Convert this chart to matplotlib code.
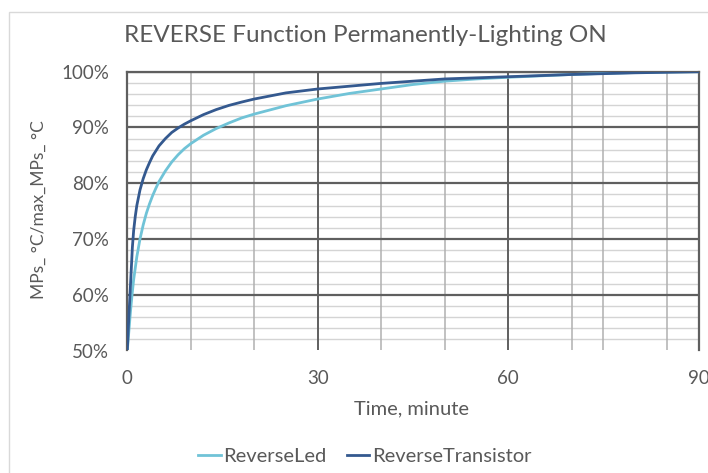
import matplotlib
matplotlib.use("Agg")
import matplotlib.pyplot as plt
from matplotlib.patches import Rectangle
from matplotlib.ticker import FuncFormatter

plt.rcParams['font.family'] = ['Lato', 'DejaVu Sans']

# Normalised temperature rise (% of max) versus time in minutes
led_time = [0, 0.25, 0.5, 0.75, 1.0, 1.5, 2.0, 2.5, 3.0, 3.5, 4.0, 4.5, 5.0,
            6, 7, 8, 9, 10, 12, 14, 16, 18, 20, 25, 30, 35, 40, 45, 50, 55,
            60, 65, 70, 75, 80, 85, 90]
reverse_led = [50, 53.5, 57, 60, 62.7, 66.8, 70, 72.5, 74.6, 76.3, 77.8, 79.1,
               80.3, 82.2, 83.8, 85.1, 86.2, 87.1, 88.6, 89.8, 90.8, 91.7,
               92.4, 93.9, 95.1, 96.1, 96.9, 97.7, 98.3, 98.7, 99.0, 99.25,
               99.5, 99.7, 99.85, 99.95, 100]

transistor_time = [0, 0.2, 0.4, 0.6, 0.8, 1.0, 1.25, 1.5, 2.0, 2.5, 3.0, 3.5,
                   4.0, 5, 6, 7, 8, 9, 10, 12, 14, 16, 18, 20, 25, 30, 35, 40,
                   45, 50, 55, 60, 65, 70, 75, 80, 85, 90]
reverse_transistor = [50, 55, 59.5, 64, 68.5, 71.5, 74, 76, 78.8, 80.8, 82.4,
                      83.7, 84.9, 86.7, 88.0, 89.1, 89.9, 90.6, 91.2, 92.3,
                      93.2, 93.95, 94.55, 95.1, 96.2, 96.9, 97.4, 97.9, 98.3,
                      98.7, 98.9, 99.1, 99.3, 99.5, 99.65, 99.8, 99.9, 100]

x_major = [0, 30, 60, 90]
x_minor = [10, 20, 40, 50, 70, 75, 85]
y_major = [50, 60, 70, 80, 90, 100]
y_minor = [v for v in range(52, 100, 2) if v % 10]

TEXT = '#595959'
W, H = 708, 473
fig = plt.figure(figsize=(W / 100, H / 100), dpi=100)
fig.patch.set_facecolor('white')

# light outline of the chart area
fig.patches.append(Rectangle((9 / W, -0.05), 1.2, 1 - 12 / H + 0.05,
                             transform=fig.transFigure, fill=False,
                             edgecolor='#d9d9d9', linewidth=1.0))

left, right = 127.3 / W, 698.5 / W
bottom, top = 1 - 350.5 / H, 1 - 71.7 / H
ax = fig.add_axes([left, bottom, right - left, top - bottom])

ax.set_xlim(0, 90)
ax.set_ylim(50, 100)

# gridlines
for v in y_minor:
    ax.axhline(v, color='#d4d4d4', linewidth=1.0, zorder=1)
for v in y_major[1:]:
    ax.axhline(v, color='#5f5f5f', linewidth=1.6, zorder=1.5)
for v in x_minor:
    ax.axvline(v, color='#b0b0b0', linewidth=1.1, zorder=1.2)
for v in x_major[1:3]:
    ax.axvline(v, color='#5f5f5f', linewidth=1.4, zorder=1.5)

ax.plot(led_time, reverse_led, color='#70c3d7', linewidth=2.0,
        label='ReverseLed', zorder=3)
ax.plot(transistor_time, reverse_transistor, color='#34598f', linewidth=2.0,
        label='ReverseTransistor', zorder=3)

for side in ('top', 'right', 'left'):
    ax.spines[side].set_color('#5f5f5f')
    ax.spines[side].set_linewidth(1.6)
ax.spines['bottom'].set_visible(False)

ax.set_xticks(x_major)
ax.set_yticks(y_major)
ax.yaxis.set_major_formatter(FuncFormatter(lambda v, p: f'{v:.0f}%'))
ax.tick_params(length=0, colors=TEXT, labelsize=13.5)
ax.tick_params(axis='x', pad=14)
ax.tick_params(axis='y', pad=13)

fig.text(412 / W, 1 - 409 / H, 'Time, minute', ha='center', va='center',
         color=TEXT, fontsize=14.5)
fig.text(39 / W, 1 - 210 / H, 'MPs_ °C/max_MPs_ °C', ha='center',
         va='center', rotation=90, color=TEXT, fontsize=12.5)

fig.text(365 / W, 1 - 36 / H, 'REVERSE Function Permanently-Lighting ON',
         ha='center', va='center', color=TEXT, fontsize=17.5)

leg = fig.legend(loc='center', bbox_to_anchor=(365 / W, 1 - 456 / H),
                 ncol=2, frameon=False, fontsize=14.5, handlelength=1.1,
                 handletextpad=0.15, columnspacing=1.0,
                 borderaxespad=0, borderpad=0)
for t in leg.get_texts():
    t.set_color(TEXT)

fig.savefig('out.png', dpi=100)
